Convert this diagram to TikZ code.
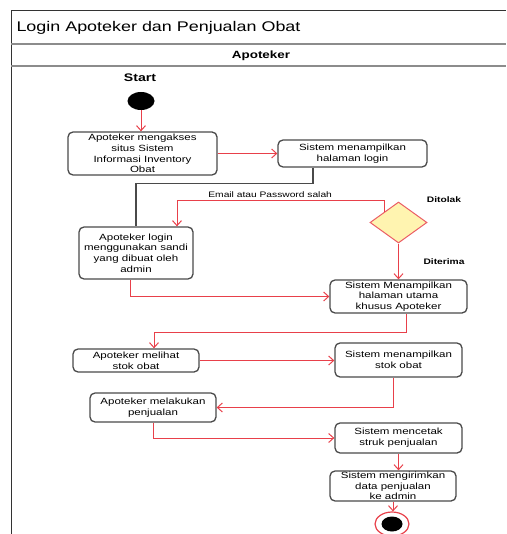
\documentclass[tikz,border=0pt]{standalone}
\usepackage{fontspec}
\setmainfont{Liberation Sans}[FakeStretch=1.28]
\usetikzlibrary{shapes.geometric,arrows.meta}
\definecolor{flowred}{HTML}{E8404A}
\definecolor{boxgray}{HTML}{4A4A4A}
\definecolor{decyellow}{HTML}{FFF4B0}
\tikzset{
  act/.style={draw=boxgray, line width=1.3pt, rounded corners=5pt, fill=white, align=center, inner sep=0pt, font=\fontsize{9}{10.7}\selectfont},
  flow/.style={draw=flowred, line width=1pt, -{Straight Barb[length=5pt,width=9pt]}},
  lbl/.style={font=\bfseries\fontsize{8}{9}\selectfont},
}
\begin{document}
\begin{tikzpicture}[x=1pt,y=-1pt]
\useasboundingbox (0,0) rectangle (506,534);
% frame and lane
\draw[line width=1pt, black!80] (11,534) -- (11,11) -- (506,11);
\draw[line width=1.3pt, black!45] (11,44) -- (506,44);
\draw[line width=1.3pt, black!45] (11,66) -- (506,66);
\node[anchor=west, font=\fontsize{14}{16}\selectfont] (title) at (13,28) {Login Apoteker dan Penjualan Obat};
\node[font=\bfseries\fontsize{10.5}{12}\selectfont] (lane) at (261,56) {Apoteker};
% start and finish
\node[font=\bfseries\fontsize{11}{13}\selectfont] (startlbl) at (140,78) {Start};
\node[ellipse, fill=black, minimum width=27, minimum height=18, inner sep=0pt] (start) at (141,101) {};
\node[ellipse, draw=flowred, line width=1.2pt, minimum width=34, minimum height=24, inner sep=0pt] (finish) at (392,524) {};
\fill[black] (finish.center) ellipse (10.5pt and 7.5pt);
% activities
\node[act, minimum width=149, minimum height=43] (act1) at (142.5,153.5) {Apoteker mengakses\\situs Sistem\\Informasi Inventory\\Obat};
\node[act, minimum width=149, minimum height=27] (act2) at (352.5,153.5) {Sistem menampilkan\\halaman login};
\node[act, minimum width=114, minimum height=52] (act3) at (136,253) {Apoteker login\\menggunakan sandi\\yang dibuat oleh\\admin};
\node[diamond, draw=flowred!85, fill=decyellow, line width=1pt, minimum width=57, minimum height=41, inner sep=0pt] (dec) at (398.5,222.5) {};
\node[lbl] (tolak) at (444,200) {Ditolak};
\node[lbl] (terima) at (444,262) {Diterima};
\node[act, minimum width=137, minimum height=33] (act4) at (398.5,296.5) {Sistem Menampilkan\\halaman utama\\khusus Apoteker};
\node[act, minimum width=126, minimum height=23] (act5) at (136,360.5) {Apoteker melihat\\stok obat};
\node[act, minimum width=127, minimum height=34] (act6) at (398.5,360) {Sistem menampilkan\\stok obat};
\node[act, minimum width=126, minimum height=29] (act7) at (153,407.5) {Apoteker melakukan\\penjualan};
\node[act, minimum width=127, minimum height=30] (act8) at (398.5,438) {Sistem mencetak\\struk penjualan};
\node[act, minimum width=126, minimum height=30] (act9) at (393,486) {Sistem mengirimkan\\data penjualan\\ke admin};
% connectors
\draw[flow] (start) -- (start |- act1.north);
\draw[flow] (act1) -- (act2);
\draw[line width=1.3pt, boxgray] ([xshift=-39.5pt]act2.south) -- ++(0,16) -| (act3.north);
\draw[flow] (dec.north west) -- ++(0,-11) -| node[pos=0.275, above, font=\fontsize{8}{9}\selectfont] (salah) {Email atau Password salah} ([xshift=41pt]act3.north);
\draw[flow] (dec) -- (act4);
\draw[flow] ([xshift=-6pt]act3.south) |- (act4.west);
\draw[flow] ([xshift=7.5pt]act4.south) -- ++(0,19) -| ([xshift=18pt]act5.north);
\draw[flow] (act5.east) -- (act5.east -| act6.west);
\draw[flow] ([xshift=-5.5pt]act6.south) |- (act7.east);
\draw[flow] (act7.south) |- (act8.west);
\draw[flow] (act8.south) -- (act8.south |- act9.north);
\draw[flow] (act9.south) -- (act9.south |- finish.north);
\end{tikzpicture}
\end{document}
